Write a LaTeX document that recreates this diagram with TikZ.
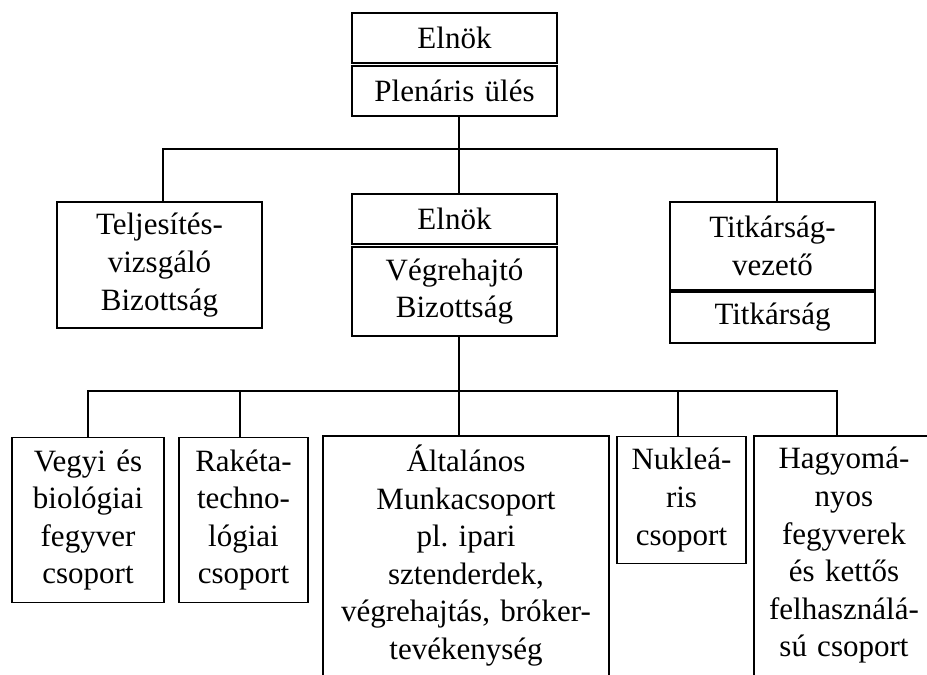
\documentclass[tikz,border=0pt]{standalone}
\usepackage{fontspec}
\setmainfont{Liberation Serif}
\begin{document}
\begin{tikzpicture}[x=1pt,y=-1pt,
  box/.style={draw, line width=1.5pt, rectangle, inner sep=0pt, outer sep=0pt, align=center,
    font=\fontsize{31}{37.6}\selectfont},
  openbox/.style={box, draw=none},
  conn/.style={line width=1.5pt}]
\useasboundingbox (0,0) rectangle (927,675);
% top
\node[box, minimum width=205pt, minimum height=50pt, text width=199pt] (elnok1) at (454.5,38) {Elnök};
\node[box, minimum width=205pt, minimum height=50pt, text width=199pt] (plen) at (454.5,91) {Plenáris ülés};
% middle level
\node[box, minimum width=205pt, minimum height=126pt, text width=199pt] (telj) at (159.5,265) {Teljesítés-\\vizsgáló\\Bizottság};
\node[box, minimum width=205pt, minimum height=50pt, text width=199pt] (elnok2) at (454.5,219) {Elnök};
\node[box, minimum width=205pt, minimum height=89pt, text width=199pt] (vegre) at (454.5,291.5) {Végrehajtó\\Bizottság};
\node[box, minimum width=205pt, minimum height=88pt, text width=199pt] (titkv) at (772.5,246) {Titkárság-\\vezető};
\node[box, minimum width=205pt, minimum height=51pt, text width=199pt] (titk) at (772.5,317.5) {Titkárság};
% bottom level
\node[box, minimum width=152pt, minimum height=165pt, text width=148pt] (vegyi) at (88,520) {Vegyi és\\biológiai\\fegyver\\csoport};
\node[box, minimum width=129pt, minimum height=165pt, text width=125pt] (raketa) at (243.5,520) {Rakéta-\\techno-\\lógiai\\csoport};
\node[openbox, minimum width=286pt, minimum height=239pt, text width=282pt] (altal) at (466,555.5) {Általános\\Munkacsoport\\pl.\ ipari\\sztenderdek,\\végrehajtás, bróker-\\tevékenység};
\node[box, minimum width=129pt, minimum height=127pt, text width=125pt] (nukl) at (681.5,500) {Nukleá-\\ris\\csoport};
\node[openbox, minimum width=180pt, minimum height=239pt, text width=176pt] (hagy) at (844,555.5) {Hagyomá-\\nyos\\fegyverek\\és kettős\\felhasználá-\\sú\hspace{0.33em}csoport};
% open box outlines
\draw[conn] (altal.south west) -- (altal.north west) -- (altal.north east) -- (altal.south east);
\draw[conn] (hagy.south west) -- (hagy.north west) -- (hagy.north east);
% connectors
\coordinate (trunk) at (459,149);
\coordinate (hl) at (163,149);
\coordinate (hr) at (777,149);
\coordinate (bus) at (459,391);
\coordinate (bl) at (88,391);
\coordinate (b2) at (240,391);
\coordinate (b4) at (678,391);
\coordinate (br) at (837,391);
\draw[conn] (trunk |- plen.south) -- (trunk |- elnok2.north);
\draw[conn] (hl |- telj.north) -- (hl) -- (hr) -- (hr |- titkv.north);
\draw[conn] (bus |- vegre.south) -- (bus |- altal.north);
\draw[conn] (bl |- vegyi.north) -- (bl) -- (br) -- (br |- hagy.north);
\draw[conn] (b2) -- (b2 |- raketa.north);
\draw[conn] (b4) -- (b4 |- nukl.north);
\end{tikzpicture}
\end{document}
